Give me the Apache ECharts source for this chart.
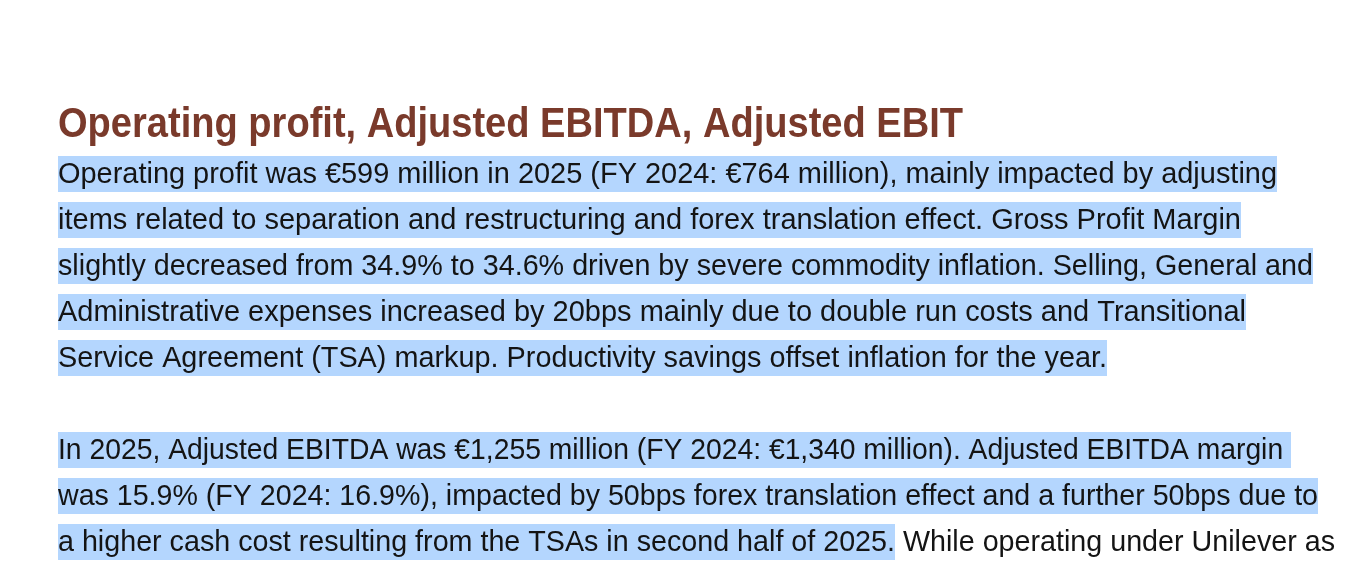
<!DOCTYPE html>
<html lang="en">
<head>
    <meta charset="UTF-8">
    <title>Operating profit, Adjusted EBITDA, Adjusted EBIT</title>
    <script src="https://cdn.jsdelivr.net/npm/echarts@6/dist/echarts.min.js"></script>
</head>
<style>
    *{
        margin: 0;
        padding: 0;
    }
    html,body{
        width: 100%;
        height: 100%;
        overflow: hidden;
        background: #fff;
    }
    .container{
        width: 1362px;
        height: 574px;
    }
</style>
<body>
<div class="container"></div>
<script>
    // text content
    let title = 'Operating profit, Adjusted EBITDA, Adjusted EBIT';
    let para1 = [
        'Operating profit was €599 million in 2025 (FY 2024: €764 million), mainly impacted by adjusting',
        'items related to separation and restructuring and forex translation effect. Gross Profit Margin',
        'slightly decreased from 34.9% to 34.6% driven by severe commodity inflation. Selling, General and',
        'Administrative expenses increased by 20bps mainly due to double run costs and Transitional',
        'Service Agreement (TSA) markup. Productivity savings offset inflation for the year.'
    ];
    let para2 = [
        'In 2025, Adjusted EBITDA was €1,255 million (FY 2024: €1,340 million). Adjusted EBITDA margin ',
        'was 15.9% (FY 2024: 16.9%), impacted by 50bps forex translation effect and a further 50bps due to',
        'a higher cash cost resulting from the TSAs in second half of 2025.'
    ];
    // part of the last line that is not selected
    let para2Tail = ' While operating under Unilever as';

    // layout: right edge of each rendered line, used to fit the font's width
    let para1Right = [1277, 1241, 1313, 1246, 1107];
    let para2Right = [1291, 1318, 1335];
    let titleRight = 963;

    const left = 58;
    const firstTop = 158;
    const lineStep = 46;
    const bodySize = 30;
    const titleSize = 42;
    const bodyFont = '"Liberation Sans", Arial, sans-serif';
    const hl = '#b4d6fe';
    const ink = '#141414';

    let ctx = document.createElement('canvas').getContext('2d');
    function measure(str, size, weight) {
        ctx.font = (weight || 'normal') + ' ' + size + 'px ' + bodyFont;
        return ctx.measureText(str).width;
    }

    let container = document.querySelector('.container');
    let mychart = echarts.init(container);

    let graphic = [];

    let tw = measure(title, titleSize, 'bold');
    graphic.push({
        type: 'text',
        x: left,
        y: 104,
        scaleX: (titleRight - left) / tw,
        style: {
            text: title,
            fill: '#7a3a2b',
            font: 'bold ' + titleSize + 'px ' + bodyFont,
            verticalAlign: 'top'
        }
    });

    // 32px line + 3px/1px padding = 36px selection box, text sits a bit low like the original
    let token = {
        lineHeight: 32,
        height: 32,
        padding: [3, 0, 1, 0],
        fontSize: bodySize,
        fontFamily: bodyFont,
        fill: ink
    };
    let rich = {
        h: Object.assign({backgroundColor: hl}, token),
        n: Object.assign({}, token)
    };

    function addLine(row, str, right, tail) {
        let full = str + (tail || '');
        let w = measure(full, bodySize);
        graphic.push({
            type: 'text',
            x: left,
            y: firstTop + row * lineStep,
            scaleX: (right - left) / w,
            style: {
                text: '{h|' + str + '}' + (tail ? '{n|' + tail + '}' : ''),
                rich: rich,
                verticalAlign: 'top'
            }
        });
    }

    para1.forEach((s, i) => addLine(i, s, para1Right[i]));
    para2.forEach((s, i) => addLine(para1.length + 1 + i, s, para2Right[i],
        i === para2.length - 1 ? para2Tail : null));

    mychart.setOption({
        backgroundColor: '#fff',
        graphic: graphic
    });
</script>
</body>
</html>
